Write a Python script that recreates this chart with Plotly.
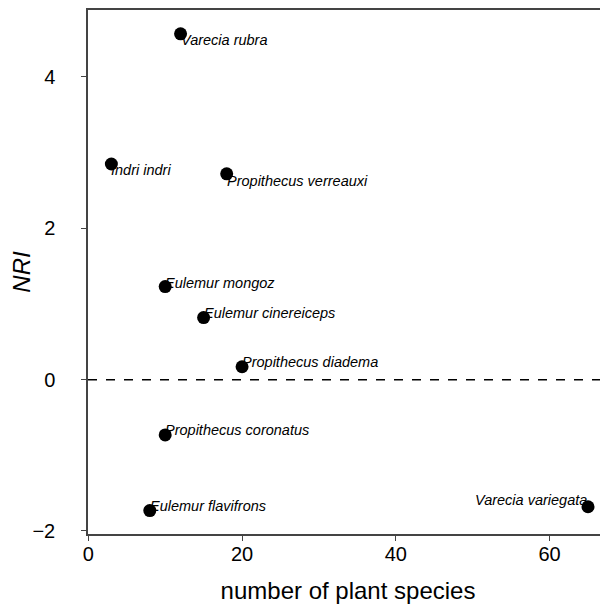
import plotly.graph_objects as go

species = ["Varecia rubra", "Indri indri", "Propithecus verreauxi", "Eulemur mongoz",
           "Eulemur cinereiceps", "Propithecus diadema", "Propithecus coronatus",
           "Eulemur flavifrons", "Varecia variegata"]
n_plants = [12, 3, 18, 10, 15, 20, 10, 8, 65]
nri = [4.57, 2.85, 2.72, 1.23, 0.82, 0.17, -0.73, -1.73, -1.68]

# label placement (pixels): x shift, y shift, anchor
lab_dx = [-2, -2, -2, -2, -2, -2, -2, -2, 1]
lab_dy = [-6, -6, -7, 4, 5, 5, 5, 5, 7]
lab_anchor = ["left"] * 8 + ["right"]

fig = go.Figure()
fig.add_trace(go.Scatter(x=n_plants, y=nri, mode="markers",
                         marker=dict(color="black", size=13),
                         hoverinfo="skip", showlegend=False))

for s, x, y, dx, dy, a in zip(species, n_plants, nri, lab_dx, lab_dy, lab_anchor):
    fig.add_annotation(x=x, y=y, xref="x", yref="y", text="<i>" + s + "</i>",
                       showarrow=False, xanchor=a, yanchor="middle",
                       xshift=dx, yshift=dy,
                       font=dict(family="Liberation Sans, Arial", size=14.5, color="black"))

fig.add_shape(type="line", xref="paper", yref="y", x0=0, x1=1, y0=0, y1=0,
              line=dict(color="black", width=1.5, dash="dash"))

# page body has an 8px margin; figure sized so the plot area lands as in the reference
fig.update_layout(
    width=600, height=603,
    margin=dict(l=80, r=0, t=2, b=77),
    paper_bgcolor="white", plot_bgcolor="white",
    font=dict(family="Liberation Sans, Arial", color="black"),
    xaxis=dict(range=[-0.04, 67.6], tickvals=[0, 20, 40, 60],
               showgrid=False, zeroline=False, showline=True, linecolor="#444",
               linewidth=1.5, mirror=True, ticks="outside", ticklen=5, tickcolor="#444",
               ticklabelstandoff=-4,
               tickfont=dict(size=20), title=dict(text="number of plant species",
                                                   font=dict(size=24), standoff=18)),
    yaxis=dict(range=[-2.04, 4.885], tickvals=[-2, 0, 2, 4],
               showgrid=False, zeroline=False, showline=True, linecolor="#444",
               linewidth=1.5, ticks="outside", ticklen=5, tickcolor="#444",
               ticklabelstandoff=22,
               tickfont=dict(size=20), title=dict(text="<i>NRI</i>",
                                                   font=dict(size=24), standoff=6)),
)

fig.write_html("out.html")
